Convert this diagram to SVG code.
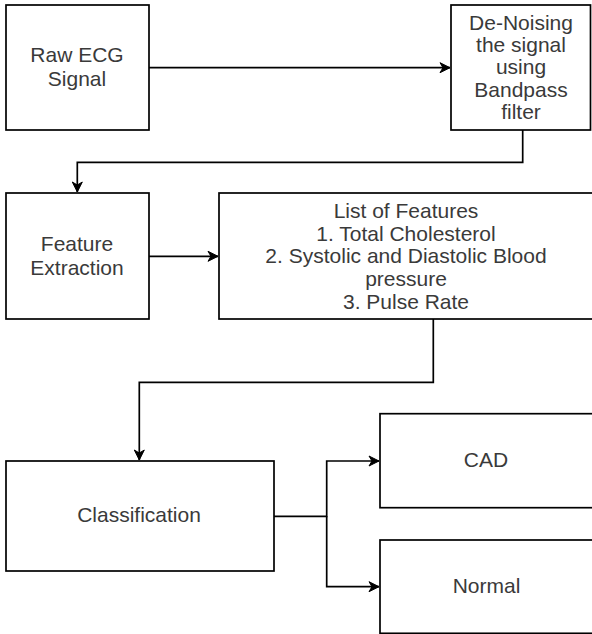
<svg xmlns="http://www.w3.org/2000/svg" width="592" height="634" viewBox="0 0 592 634">
<style>
.box{fill:#fff;stroke:#000;stroke-width:1.7}
.lbl{font-family:"Liberation Sans",Arial,sans-serif;font-size:21px;fill:#3a3a3a;text-anchor:middle}
.edge{fill:none;stroke:#000;stroke-width:1.7}
</style>
<defs>
<marker id="arr" viewBox="0 0 12 12" refX="11" refY="6" markerWidth="12" markerHeight="12" markerUnits="userSpaceOnUse" orient="auto">
<path d="M1,1 L11,6 L1,11 L4,6 z" fill="#000" stroke="#000" stroke-width="1"/>
</marker>
</defs>
<rect width="592" height="634" fill="#fff"/>
<g id="connectors">
<path class="edge" d="M149,67.7 H450" marker-end="url(#arr)"/>
<path class="edge" d="M522.7,130 V162.3 H77.3 V192" marker-end="url(#arr)"/>
<path class="edge" d="M149,256.3 H218" marker-end="url(#arr)"/>
<path class="edge" d="M433.3,319 V382.3 H139.3 V460" marker-end="url(#arr)"/>
<path class="edge" d="M274,516.3 H326.7 V461 H379" marker-end="url(#arr)"/>
<path class="edge" d="M326.7,516.3 V586.7 H379" marker-end="url(#arr)"/>
</g>
<g id="raw">
<rect class="box" x="6" y="5" width="143" height="125"/>
<text class="lbl" x="77" y="62">Raw ECG</text>
<text class="lbl" x="77" y="86">Signal</text>
</g>
<g id="denoise">
<rect class="box" x="451" y="5" width="139.5" height="125"/>
<text class="lbl" x="521" y="29.5">De-Noising</text>
<text class="lbl" x="521" y="51.8">the signal</text>
<text class="lbl" x="521" y="74">using</text>
<text class="lbl" x="521" y="96.5">Bandpass</text>
<text class="lbl" x="521" y="118.5">filter</text>
</g>
<g id="feature">
<rect class="box" x="6" y="193" width="143" height="126"/>
<text class="lbl" x="77" y="251">Feature</text>
<text class="lbl" x="77" y="275">Extraction</text>
</g>
<g id="list">
<rect class="box" x="219" y="193" width="380" height="126"/>
<text class="lbl" x="406" y="217.7">List of Features</text>
<text class="lbl" x="406" y="240.5">1. Total Cholesterol</text>
<text class="lbl" x="406" y="263.3">2. Systolic and Diastolic Blood</text>
<text class="lbl" x="406" y="286">pressure</text>
<text class="lbl" x="406" y="308.5">3. Pulse Rate</text>
</g>
<g id="classification">
<rect class="box" x="6" y="461" width="268" height="110"/>
<text class="lbl" x="139" y="521.7">Classification</text>
</g>
<g id="cad">
<rect class="box" x="380" y="413.7" width="220" height="94"/>
<text class="lbl" x="486" y="467.3">CAD</text>
</g>
<g id="normal">
<rect class="box" x="380" y="540" width="220" height="93.3"/>
<text class="lbl" x="486.5" y="592.7">Normal</text>
</g>
</svg>
